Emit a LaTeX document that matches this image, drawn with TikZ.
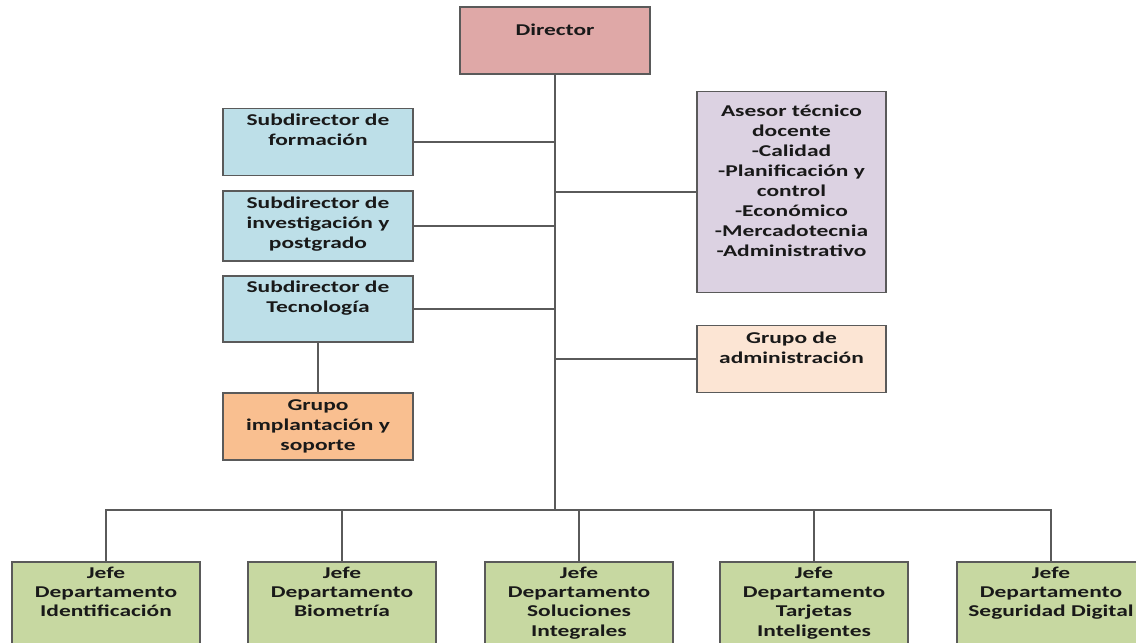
\documentclass[tikz,border=0pt]{standalone}
\usepackage{fontspec}
\newfontfamily\carlfont{Carlito}[FakeStretch=1.42]
\usetikzlibrary{calc}
\definecolor{edgec}{HTML}{5A5A5A}
\definecolor{dirc}{HTML}{DFA8A7}
\definecolor{subc}{HTML}{BDDFE8}
\definecolor{implc}{HTML}{F9BF90}
\definecolor{asec}{HTML}{DCD2E2}
\definecolor{admc}{HTML}{FCE5D4}
\definecolor{jefc}{HTML}{C7D8A1}
\newcommand{\mlines}[1]{\begin{tabular}[t]{@{}c@{}}#1\end{tabular}}
\tikzset{
  box/.style={draw=edgec, line width=1.5pt, inner sep=0pt, minimum width=190pt},
  jefebox/.style={box, fill=jefc, minimum width=188pt, minimum height=100pt, anchor=north},
  lbl/.style={inner sep=0pt, anchor=base, text=black!90,
    font=\carlfont\bfseries\fontsize{16.5}{20}\selectfont},
  jlbl/.style={lbl, font=\carlfont\bfseries\fontsize{16.5}{19.4}\selectfont},
  conn/.style={draw=edgec, line width=1.6pt}
}
\begin{document}
\begin{tikzpicture}[x=1pt,y=-1pt]
\useasboundingbox (0,0) rectangle (1136,643);
\fill[white] (0,0) rectangle (1136,643);
\clip (0,0) rectangle (1136,643);
% boxes
\node[box, fill=dirc, minimum height=67pt] (dir) at (555,40.5) {};
\node[box, fill=subc, minimum height=67pt] (sform) at (318,142) {};
\node[box, fill=subc, minimum height=70pt] (sinv) at (318,226) {};
\node[box, fill=subc, minimum height=66pt] (stec) at (318,309) {};
\node[box, fill=implc, minimum height=67pt] (impl) at (318,426.5) {};
\node[box, fill=asec, minimum width=189pt, minimum height=201pt] (ase) at (791.5,192) {};
\node[box, fill=admc, minimum width=189pt, minimum height=67pt] (adm) at (791.5,359) {};
\node[jefebox] (j1) at (106,561) {};
\node[jefebox] (j2) at (342,561) {};
\node[jefebox] (j3) at (579,561) {};
\node[jefebox] (j4) at (814,561) {};
\node[jefebox] (j5) at (1051,561) {};
% labels
\node[lbl] (dirT) at (555,35) {\mlines{Director}};
\node[lbl] (sformT) at (318,125) {\mlines{Subdirector de\\formación}};
\node[lbl] (sinvT) at (318,208) {\mlines{Subdirector de\\investigación y\\postgrado}};
\node[lbl] (stecT) at (318,292) {\mlines{Subdirector de\\Tecnología}};
\node[lbl] (implT) at (318,410) {\mlines{Grupo\\implantación y\\soporte}};
\node[lbl] (aseT) at (791.5,116) {\mlines{Asesor técnico\\docente\\-Calidad\\-Planificación y\\control\\-Económico\\-Mercadotecnia\\-Administrativo}};
\node[lbl] (admT) at (791.5,343) {\mlines{Grupo de\\administración}};
\node[jlbl] (j1T) at (106,578) {\mlines{Jefe\\Departamento\\Identificación}};
\node[jlbl] (j2T) at (342,578) {\mlines{Jefe\\Departamento\\Biometría}};
\node[jlbl] (j3T) at (579,578) {\mlines{Jefe\\Departamento\\Soluciones\\Integrales}};
\node[jlbl] (j4T) at (814,578) {\mlines{Jefe\\Departamento\\Tarjetas\\Inteligentes}};
\node[jlbl] (j5T) at (1051,578) {\mlines{Jefe\\Departamento\\Seguridad Digital}};
% connectors
\coordinate (bus) at (555,510);
\draw[conn] (dir.south) -- (bus);
\draw[conn] (sform.east) -- (sform.east -| dir.south);
\draw[conn] (sinv.east) -- (sinv.east -| dir.south);
\draw[conn] (stec.east) -- (stec.east -| dir.south);
\draw[conn] (ase.west) -- (ase.west -| dir.south);
\draw[conn] (adm.west) -- (adm.west -| dir.south);
\draw[conn] (stec.south) -- (impl.north);
\draw[conn] (j1.north) -- (j1.north |- bus) -- (j5.north |- bus) -- (j5.north);
\draw[conn] (j2.north) -- (j2.north |- bus);
\draw[conn] (j3.north) -- (j3.north |- bus);
\draw[conn] (j4.north) -- (j4.north |- bus);
\end{tikzpicture}
\end{document}
